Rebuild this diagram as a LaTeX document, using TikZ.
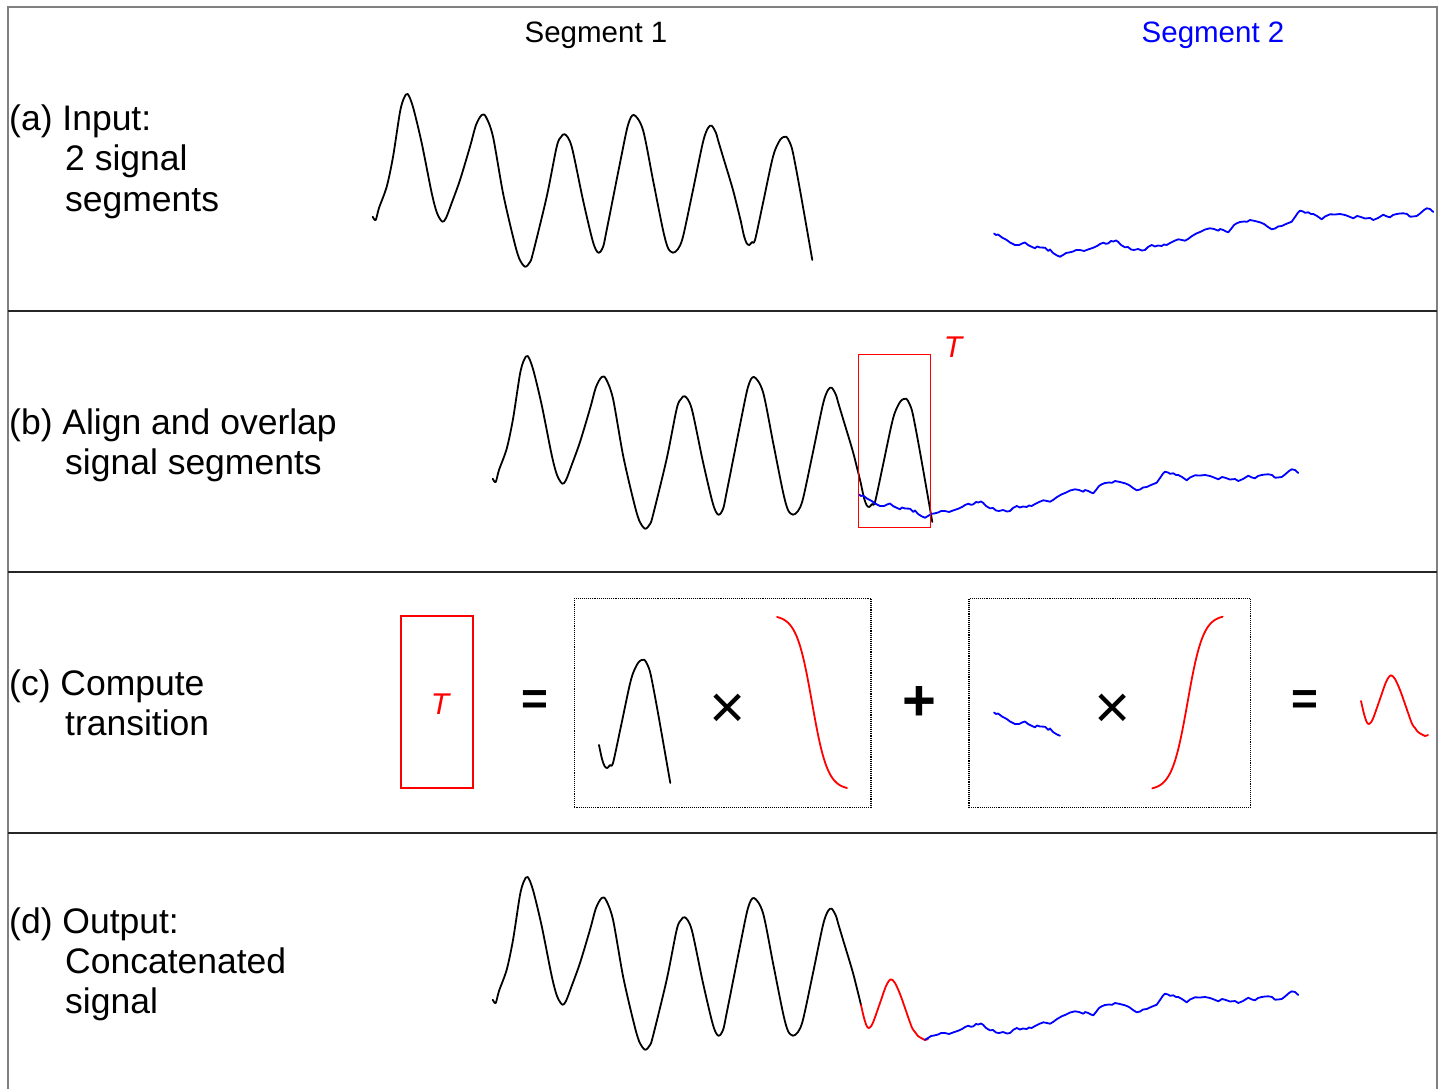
\documentclass[tikz,border=0pt]{standalone}
\usepackage{fontspec}
\setmainfont{Liberation Sans}
\def\segAone{plot[smooth,tension=0.5] coordinates {(372.7,216.7) (375.7,220) (379,208) (386.7,186.7) (393,157) (400,112) (404,98) (407.7,94) (413,107) (421.7,143) (431.7,193) (437,213) (442.3,221.7) (446,218) (451.7,203) (460,180) (470,146.7) (476,125) (481.7,115) (486,117) (493,136.7) (503,193) (513,236.7) (519,258) (525,266.7) (530,262) (533,253) (546.7,196.7) (556.7,146.7) (561,137) (565,134.3) (571.7,146.7) (583,200) (593,242) (598.3,252.7) (603,247) (606.7,230) (620,163) (628,125) (634,115) (643,130) (653,180) (663,230) (668,248) (673,252.7) (678,249) (683,236.7) (693,190) (703,142) (708,128) (711.7,125.7) (716,133) (718,140) (723,156.7) (733,190) (741,222)}}
\def\segAtwo{plot[smooth,tension=0.5] coordinates {(741,222) (744,236) (746.7,243.3) (749.3,245) (752,242) (755,240) (763,203) (773,156.7) (780,140) (786,136.7) (790,143) (793,153) (800,190) (812.3,260)}}
\def\segBone{plot coordinates {(994,233.5) (996,235) (998,234.5) (1002,237.5) (1006.7,240) (1010,242.5) (1015,245) (1019,245) (1022,243.5) (1025,242.5) (1028,245) (1031,246.5) (1035,248.3) (1037,246.5) (1040,247.5) (1045,247.7) (1048.3,251) (1050,249.5) (1053,253) (1057,255.5) (1060,256.7)}}
\def\segBtwo{plot coordinates {(1060,256.7) (1063,255) (1066,253) (1070,252.3) (1073,251.5) (1076,250) (1080,250) (1084,251) (1088,249.5) (1093.3,247.7) (1097,246) (1100,244) (1103.3,242.7) (1106,243.8) (1108.3,243.3) (1111,241) (1113.3,241.5) (1116,240.5) (1118.3,242) (1121,245) (1125,247.3) (1128,247) (1131,249.5) (1134,250) (1138,249) (1142,250.5) (1145,250) (1148,247) (1151.7,245) (1155,246.5) (1158,245.5) (1161.7,246) (1164,244.5) (1166.7,245) (1170,243) (1174,241) (1178.3,239.3) (1181,239.8) (1185,240.7) (1188,239) (1192,236) (1196.7,233.3) (1200,232) (1205,229.5) (1210,228.3) (1214,229) (1218.3,230.7) (1220,229) (1223.3,230) (1226,231.5) (1228.3,232.3) (1231,229) (1234,225) (1236.7,223.3) (1240,222) (1244,221.5) (1247,221.8) (1250,220) (1255,221) (1260,222.3) (1264,224) (1268,227) (1271.7,229.3) (1275,228.5) (1278,226.5) (1281.7,226) (1286,224) (1291.7,221.7) (1295,217) (1298,212.5) (1300,210.7) (1303,211.5) (1305,212.8) (1308.3,212.3) (1311,214) (1313.3,214) (1317,216) (1321.7,219.3) (1325,216.5) (1330,214.3) (1335,214.5) (1340,214) (1345,215) (1349,216.5) (1353.3,218.3) (1357,216) (1360,216.7) (1365,218.5) (1370,218) (1373.3,220) (1378,218) (1383.3,214.7) (1387,216.5) (1390,217.3) (1393,215) (1396.7,214) (1400,213.5) (1403.3,213.3) (1407,214) (1410,216.7) (1413,216.5) (1416.7,216) (1420,213.5) (1424,210) (1426.7,208.3) (1430,209) (1433.3,212)}}
\def\segT{plot[smooth,tension=0.5] coordinates {(861,1005) (864,1018) (866.7,1026) (869,1028) (872.7,1023.3) (880,1003) (886,986) (890.7,979.3) (895,983) (900,994) (905,1008) (911.7,1027) (915,1032) (918,1036) (922,1038.5) (925,1040) (928,1039)}}
\begin{document}
\begin{tikzpicture}[x=1pt,y=-1pt,
  sig/.style={line width=1.8pt, line join=round, line cap=round},
  lab/.style={anchor=base west, inner sep=0pt, font=\fontsize{35.5}{40}\selectfont},
  hdr/.style={anchor=base, inner sep=0pt, font=\fontsize{29.5}{34}\selectfont},
  tlab/.style={anchor=base, inner sep=0pt, text=red, font=\fontsize{30}{34}\selectfont\itshape},
  redbox/.style={draw=red, line width=1.5pt, inner sep=0pt},
  dotbox/.style={draw=black, densely dotted, line width=1.1pt, inner sep=0pt},
  rowrule/.style={draw=black!85, line width=1.3pt},
  framerule/.style={draw=black!50, line width=1.3pt},
  eqsign/.style={inner sep=0pt, anchor=center, font=\fontsize{46}{46}\selectfont\bfseries},
  plsign/.style={inner sep=0pt, anchor=center, font=\fontsize{58}{58}\selectfont\bfseries},
  mulsign/.style={inner sep=0pt, anchor=center, font=\fontsize{62}{62}\selectfont}]
\useasboundingbox (0,0) rectangle (1443,1089);
% frame
\coordinate (fbl) at (8,1089);
\coordinate (ftl) at (8,7);
\coordinate (ftr) at (1437,7);
\coordinate (fbr) at (1437,1089);
\draw[framerule] (fbl) -- (ftl) -- (ftr) -- (fbr);
\foreach \yy/\nm in {311/ab,572/bc,833/cd}{
  \coordinate (L\nm) at (8,\yy);
  \coordinate (R\nm) at (1437,\yy);
  \draw[rowrule] (L\nm) -- (R\nm);
}
% headers
\node[hdr] (seg1) at (596,43) {Segment 1};
\node[hdr, text=blue] (seg2) at (1213,43) {Segment 2};
% row labels
\node[lab] (la1) at (9,131) {(a) Input:};
\node[lab] (la2) at (65,171) {2 signal};
\node[lab] (la3) at (65,211) {segments};
\node[lab] (lb1) at (9,434) {(b) Align and overlap};
\node[lab] (lb2) at (65,474) {signal segments};
\node[lab] (lc1) at (9,695) {(c) Compute};
\node[lab] (lc2) at (65,735) {transition};
\node[lab] (ld1) at (9,933) {(d) Output:};
\node[lab] (ld2) at (65,973) {Concatenated};
\node[lab] (ld3) at (65,1013) {signal};
% (a) inputs
\draw[sig, black] \segAone;
\draw[sig, black] \segAtwo;
\draw[sig, blue] \segBone;
\draw[sig, blue] \segBtwo;
% (b) aligned
\begin{scope}[shift={(120,262)}]
\draw[sig, black] \segAone;
\draw[sig, black] \segAtwo;
\end{scope}
\begin{scope}[shift={(-135,261)}]
\draw[sig, blue] \segBone;
\draw[sig, blue] \segBtwo;
\end{scope}
\node[redbox, minimum width=72.4pt, minimum height=173pt] (Tbox) at (894.5,440.8) {};
\node[tlab] (Tlb) at (953,357) {T};
% (c) transition
\node[redbox, minimum width=72pt, minimum height=172pt] (Tc) at (437,702) {};
\node[tlab] (Tlc) at (440,714) {T};
\node[eqsign] (eq1) at (535,703) {=};
\node[dotbox, minimum width=296.7pt, minimum height=209pt] (box1) at (722.65,702.8) {};
\begin{scope}[shift={(-142,523)}]
\draw[sig, black] \segAtwo;
\end{scope}
\node[mulsign] (mul1) at (727.7,711) {×};
\draw[sig, red] plot[domain=0:1, samples=80, variable=\t] ({777+70*\t}, {617+171*((1/(1+exp(-9*(\t-0.5))))-0.011)/0.978});
\node[plsign] (plus) at (919,703) {+};
\node[dotbox, minimum width=281.7pt, minimum height=209pt] (box2) at (1109.85,702.8) {};
\begin{scope}[shift={(0,479)}]
\draw[sig, blue] \segBone;
\end{scope}
\node[mulsign] (mul2) at (1112.3,711.7) {×};
\draw[sig, red] plot[domain=0:1, samples=80, variable=\t] ({1152.3+70.4*\t}, {788.3-171.6*((1/(1+exp(-9*(\t-0.5))))-0.011)/0.978});
\node[eqsign] (eq2) at (1305,703) {=};
\begin{scope}[shift={(500,-304)}]
\draw[sig, red] \segT;
\end{scope}
% (d) output
\begin{scope}[shift={(120,783)}]
\draw[sig, black] \segAone;
\end{scope}
\draw[sig, red] \segT;
\begin{scope}[shift={(-135,783)}]
\draw[sig, blue] \segBtwo;
\end{scope}
\end{tikzpicture}
\end{document}
